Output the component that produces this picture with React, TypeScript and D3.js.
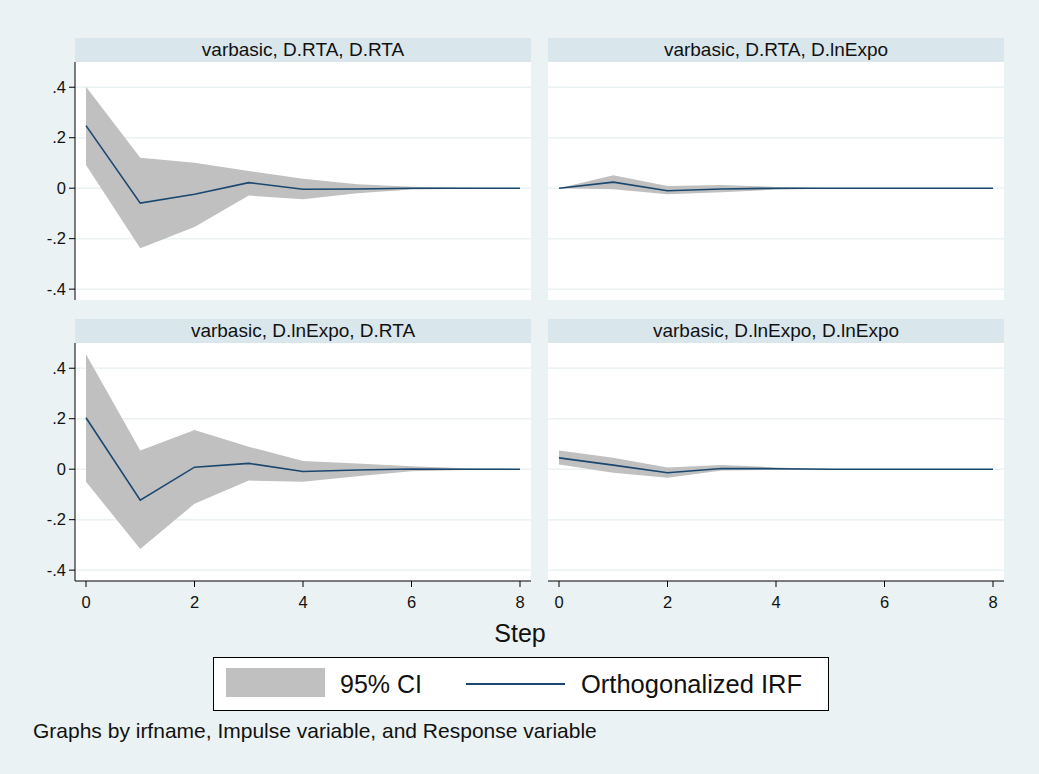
import React from "react";
import * as d3 from "d3";

// steps of the impulse response
const steps = [0, 1, 2, 3, 4, 5, 6, 7, 8];

// varbasic, D.RTA, D.RTA
const irfRtaRta = [0.248, -0.059, -0.024, 0.022, -0.004, -0.003, 0.0, 0.0, 0.0];
const loRtaRta = [0.092, -0.238, -0.154, -0.029, -0.044, -0.02, -0.005, -0.002, -0.001];
const hiRtaRta = [0.402, 0.121, 0.101, 0.068, 0.037, 0.016, 0.006, 0.002, 0.001];

// varbasic, D.RTA, D.lnExpo
const irfRtaExpo = [0.0, 0.024, -0.01, -0.003, 0.0, 0.0, 0.0, 0.0, 0.0];
const loRtaExpo = [0.0, -0.004, -0.024, -0.016, -0.006, -0.001, 0.0, 0.0, 0.0];
const hiRtaExpo = [0.0, 0.051, 0.009, 0.013, 0.005, 0.001, 0.0, 0.0, 0.0];

// varbasic, D.lnExpo, D.RTA
const irfExpoRta = [0.204, -0.123, 0.008, 0.023, -0.009, -0.003, 0.001, 0.0, 0.0];
const loExpoRta = [-0.05, -0.316, -0.137, -0.045, -0.05, -0.028, -0.008, -0.003, -0.001];
const hiExpoRta = [0.455, 0.074, 0.155, 0.089, 0.032, 0.023, 0.012, 0.004, 0.001];

// varbasic, D.lnExpo, D.lnExpo
const irfExpoExpo = [0.045, 0.016, -0.014, 0.003, 0.002, 0.0, 0.0, 0.0, 0.0];
const loExpoExpo = [0.019, -0.014, -0.034, -0.005, -0.003, -0.001, 0.0, 0.0, 0.0];
const hiExpoExpo = [0.074, 0.045, 0.007, 0.017, 0.007, 0.001, 0.0, 0.0, 0.0];

const panelTitles = [
  "varbasic, D.RTA, D.RTA",
  "varbasic, D.RTA, D.lnExpo",
  "varbasic, D.lnExpo, D.RTA",
  "varbasic, D.lnExpo, D.lnExpo",
];

const yTicks = [0.4, 0.2, 0, -0.2, -0.4];
const yTickLabels = [".4", ".2", "0", "-.2", "-.4"];
const xTicks = [0, 2, 4, 6, 8];

const W = 1039;
const H = 774;
const FONT = "'Liberation Sans', Arial, sans-serif";
const BG = "#eaf2f3";
const STRIP = "#d9e6eb";
const NAVY = "#1a476f";
const CI = "#c0c0c0";

const cols = [
  { x0: 75, x1: 531 },
  { x0: 548, x1: 1004 },
];
const rows = [
  { s0: 38, p0: 62, p1: 300 },
  { s0: 319, p0: 343, p1: 581 },
];

const panels = [
  { title: panelTitles[0], irf: irfRtaRta, lo: loRtaRta, hi: hiRtaRta, c: 0, r: 0 },
  { title: panelTitles[1], irf: irfRtaExpo, lo: loRtaExpo, hi: hiRtaExpo, c: 1, r: 0 },
  { title: panelTitles[2], irf: irfExpoRta, lo: loExpoRta, hi: hiExpoRta, c: 0, r: 1 },
  { title: panelTitles[3], irf: irfExpoExpo, lo: loExpoExpo, hi: hiExpoExpo, c: 1, r: 1 },
];

const Panel = ({ p }: { p: (typeof panels)[number] }) => {
  const col = cols[p.c];
  const row = rows[p.r];
  const x = d3.scaleLinear().domain([0, 8]).range([col.x0 + 11, col.x1 - 11]);
  const y = d3.scaleLinear().domain([-0.443, 0.5]).range([row.p1, row.p0]);

  const band = d3
    .area<number>()
    .x((_, i) => x(steps[i]))
    .y0((_, i) => y(p.lo[i]))
    .y1((_, i) => y(p.hi[i]));
  const line = d3
    .line<number>()
    .x((_, i) => x(steps[i]))
    .y((d) => y(d));

  return (
    <g>
      {/* strip header */}
      <rect x={col.x0} y={row.s0} width={col.x1 - col.x0} height={row.p0 - row.s0} fill={STRIP} />
      <text
        x={(col.x0 + col.x1) / 2}
        y={row.s0 + 18}
        textAnchor="middle"
        fontSize={19}
        fontFamily={FONT}
        fill="#111"
      >
        {p.title}
      </text>
      {/* plot region */}
      <rect x={col.x0} y={row.p0} width={col.x1 - col.x0} height={row.p1 - row.p0} fill="white" />
      {yTicks.map((t) => (
        <line key={t} x1={col.x0} x2={col.x1} y1={y(t)} y2={y(t)} stroke={BG} strokeWidth={1.5} />
      ))}
      <path d={band(p.lo) ?? ""} fill={CI} />
      <path d={line(p.irf) ?? ""} fill="none" stroke={NAVY} strokeWidth={1.6} />

      {/* y axis on left column */}
      {p.c === 0 && (
        <g>
          <line x1={col.x0} x2={col.x0} y1={row.p0} y2={row.p1} stroke="#000" strokeWidth={1} />
          {yTicks.map((t, i) => (
            <g key={t}>
              <line x1={col.x0 - 6} x2={col.x0} y1={y(t)} y2={y(t)} stroke="#000" />
              <text
                x={col.x0 - 9}
                y={y(t)}
                dy="0.35em"
                textAnchor="end"
                fontSize={16.5}
                fontFamily={FONT}
                fill="#111"
              >
                {yTickLabels[i]}
              </text>
            </g>
          ))}
        </g>
      )}

      {/* x axis on bottom row */}
      {p.r === 1 && (
        <g>
          <line x1={col.x0} x2={col.x1} y1={row.p1} y2={row.p1} stroke="#000" strokeWidth={1} />
          {xTicks.map((t) => (
            <g key={t}>
              <line x1={x(t)} x2={x(t)} y1={row.p1} y2={row.p1 + 6} stroke="#000" />
              <text
                x={x(t)}
                y={row.p1 + 27}
                textAnchor="middle"
                fontSize={16.5}
                fontFamily={FONT}
                fill="#111"
              >
                {t}
              </text>
            </g>
          ))}
        </g>
      )}
    </g>
  );
};

export default function App() {
  return (
    <svg width={W} height={H} style={{ position: "absolute", left: 0, top: 0 }}>
      <rect x={0} y={0} width={W} height={H} fill={BG} />
      {panels.map((p) => (
        <Panel key={p.title} p={p} />
      ))}
      <text x={520} y={642} textAnchor="middle" fontSize={25} fontFamily={FONT} fill="#111">
        Step
      </text>

      {/* legend */}
      <rect x={213.5} y={657.5} width={615} height={53} fill="white" stroke="#000" strokeWidth={1} />
      <rect x={226} y={668} width={99} height={29} fill={CI} />
      <text x={340} y={693} fontSize={25} fontFamily={FONT} fill="#111">
        95% CI
      </text>
      <line x1={466} x2={565} y1={684} y2={684} stroke={NAVY} strokeWidth={2} />
      <text x={581} y={693} fontSize={25.5} fontFamily={FONT} fill="#111">
        Orthogonalized IRF
      </text>

      <text x={33} y={738} fontSize={21} fontFamily={FONT} fill="#111">
        Graphs by irfname, Impulse variable, and Response variable
      </text>
    </svg>
  );
}
